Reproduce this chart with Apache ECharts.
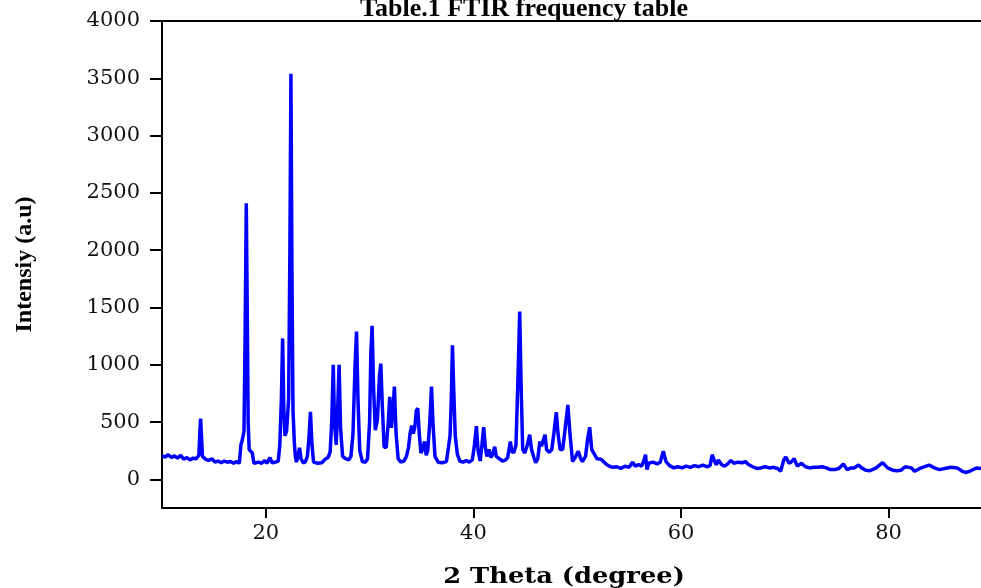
<!DOCTYPE html>
<html>
<head>
<meta charset="utf-8">
<script src="https://cdn.jsdelivr.net/npm/echarts@6/dist/echarts.min.js"></script>
<style>html,body{margin:0;padding:0;background:#fff;}#c{width:981px;height:588px;}</style>
</head>
<body>
<div id="c"></div>
<script>
var titleText = "Table.1 FTIR frequency table";
var xName = "2 Theta (degree)";
var yName = "Intensiy (a.u)";
var yTicks = [0, 500, 1000, 1500, 2000, 2500, 3000, 3500, 4000];
var xTicks = [20, 40, 60, 80];

var theta = [
10.0,10.3,10.6,10.9,11.2,11.5,11.8,12.1,12.4,12.7,13.0,13.3,13.55,13.65,13.72,13.8,13.9,14.2,14.5,14.8,
15.1,15.4,15.7,16.0,16.3,16.6,16.9,17.2,17.45,17.6,17.75,17.9,18.0,18.12,18.22,18.3,18.4,18.55,18.7,18.85,
19.0,19.3,19.6,19.9,20.1,20.4,20.6,20.9,21.2,21.35,21.5,21.62,21.74,21.85,22.0,22.2,22.32,22.42,22.52,22.62,
22.75,22.85,22.95,23.1,23.25,23.4,23.6,23.8,24.0,24.15,24.3,24.45,24.6,25.0,25.4,25.7,26.0,26.2,26.35,26.5,
26.62,26.78,26.9,27.06,27.2,27.4,27.7,28.0,28.2,28.4,28.6,28.74,28.88,29.05,29.3,29.6,29.8,30.0,30.12,30.24,
30.38,30.55,30.75,30.95,31.08,31.22,31.4,31.6,31.8,31.94,32.1,32.25,32.39,32.55,32.75,33.0,33.3,33.55,33.75,33.9,
34.06,34.2,34.35,34.5,34.64,34.8,34.95,35.1,35.3,35.45,35.6,35.8,35.96,36.1,36.3,36.6,37.0,37.4,37.6,37.75,
37.87,37.98,38.1,38.25,38.45,38.7,39.0,39.3,39.6,39.9,40.1,40.29,40.45,40.65,40.8,40.99,41.15,41.3,41.5,41.7,
41.9,42.05,42.2,42.5,42.8,43.1,43.3,43.56,43.7,43.9,44.1,44.3,44.46,44.6,44.75,44.95,45.2,45.42,45.6,45.8,
46.0,46.2,46.4,46.55,46.7,46.9,47.05,47.3,47.55,47.75,47.99,48.15,48.35,48.6,48.85,49.1,49.3,49.55,49.8,50.1,
50.3,50.5,50.8,51.0,51.2,51.4,51.65,51.9,52.3,52.7,53.0,53.4,53.8,54.2,54.6,55.0,55.33,55.6,55.9,56.2,
56.45,56.58,56.72,56.9,57.3,57.7,58.0,58.3,58.55,58.9,59.3,59.7,60.1,60.5,60.9,61.3,61.7,62.1,62.5,62.8,
63.0,63.2,63.4,63.6,63.9,64.2,64.5,64.8,65.1,65.5,65.9,66.2,66.5,66.9,67.3,67.7,68.1,68.5,68.9,69.3,
69.6,69.9,70.1,70.4,70.6,70.9,71.2,71.6,72.0,72.4,72.8,73.2,73.6,74.0,74.4,74.8,75.2,75.64,76.0,76.4,
76.7,77.1,77.4,77.8,78.2,78.8,79.43,79.9,80.4,80.8,81.2,81.6,82.2,82.5,83.0,83.9,84.4,84.9,85.4,86.0,
86.6,87.1,87.5,87.9,88.5,88.9
];
var intensity = [
205,195,215,190,205,185,210,175,190,170,185,180,210,420,530,380,200,175,165,180,
150,160,145,160,150,155,140,155,140,300,350,420,1200,2410,1400,500,260,270,230,140,
130,150,140,165,140,190,145,150,160,300,700,1230,600,380,420,700,2000,3540,1800,600,
320,200,150,200,275,180,145,150,200,350,590,300,150,140,145,175,190,240,500,1000,
500,300,550,1000,450,200,180,170,200,400,1000,1290,700,250,155,150,180,500,1100,1340,
800,430,520,900,1010,650,280,280,500,720,450,600,810,400,180,150,160,200,280,400,
470,400,450,600,620,380,230,260,330,210,250,500,810,500,200,150,145,155,280,380,
700,1170,800,380,220,160,150,165,150,170,300,465,250,160,280,455,280,200,260,190,
230,285,200,180,160,170,190,330,240,235,300,900,1465,800,260,230,300,390,260,200,
145,180,330,290,300,390,260,235,260,400,585,400,260,260,450,650,400,155,190,245,
190,155,200,350,455,260,220,180,175,140,120,105,110,95,115,105,150,115,130,115,
170,215,85,140,150,135,150,245,155,120,100,110,100,115,105,120,110,125,110,120,
215,165,127,170,130,115,135,165,140,150,145,155,130,110,95,100,110,100,105,95,
70,170,195,140,150,180,115,140,110,100,105,105,110,100,85,85,95,135,85,100,
100,125,100,80,75,100,145,100,80,75,80,110,100,70,95,125,100,85,95,105,
100,70,60,75,100,95
];

var seriesData = theta.map(function (t, i) { return [t, intensity[i]]; });

var chart = echarts.init(document.getElementById('c'), null, { renderer: 'canvas' });
chart.setOption({
  animation: false,
  backgroundColor: '#ffffff',
  grid: { left: 162, top: 21, right: 0, bottom: 80, containLabel: false },
  xAxis: [{
    type: 'value', min: 10, max: 88.9, position: 'bottom',
    axisLine: { show: true, onZero: false, lineStyle: { color: '#000', width: 2 } },
    axisTick: { show: true, length: 10, customValues: xTicks, lineStyle: { color: '#000', width: 2 } },
    axisLabel: { customValues: xTicks, margin: 15, color: '#111', fontFamily: 'DejaVu Serif', fontSize: 21,
                 formatter: function (v) { return String(v); } },
    splitLine: { show: false }
  }, {
    type: 'value', min: 10, max: 88.9, position: 'top',
    axisLine: { show: true, onZero: false, lineStyle: { color: '#000', width: 2 } },
    axisTick: { show: false }, axisLabel: { show: false }, splitLine: { show: false }
  }],
  yAxis: {
    type: 'value', min: -250, max: 4000,
    name: yName, nameLocation: 'middle', nameRotate: 90, nameGap: 125,
    nameTextStyle: { fontFamily: 'Liberation Serif', fontWeight: 'bold', fontSize: 24, color: '#000' },
    axisLine: { show: true, onZero: false, lineStyle: { color: '#000', width: 2 } },
    axisTick: { show: true, length: 12, customValues: yTicks, lineStyle: { color: '#000', width: 2 } },
    axisLabel: { customValues: yTicks, margin: 22, color: '#111', fontFamily: 'DejaVu Serif', fontSize: 21,
                 formatter: function (v) { return String(v); } },
    splitLine: { show: false }
  },
  graphic: [{
    type: 'text', x: 524, y: 9, silent: true,
    style: { text: titleText, font: 'bold 26px "Liberation Serif"', fill: '#000',
             align: 'center', textAlign: 'center', verticalAlign: 'middle', textVerticalAlign: 'middle' }
  }, {
    type: 'text', x: 564, y: 577, scaleX: 1.17, silent: true,
    style: { text: xName, font: 'bold 22px "DejaVu Serif"', fill: '#000',
             align: 'center', textAlign: 'center', verticalAlign: 'middle', textVerticalAlign: 'middle' }
  }],
  series: [{
    type: 'line', data: seriesData, showSymbol: false, symbol: 'none',
    lineStyle: { color: '#0000ff', width: 3.5 }, xAxisIndex: 0, yAxisIndex: 0
  }]
});
</script>
</body>
</html>
